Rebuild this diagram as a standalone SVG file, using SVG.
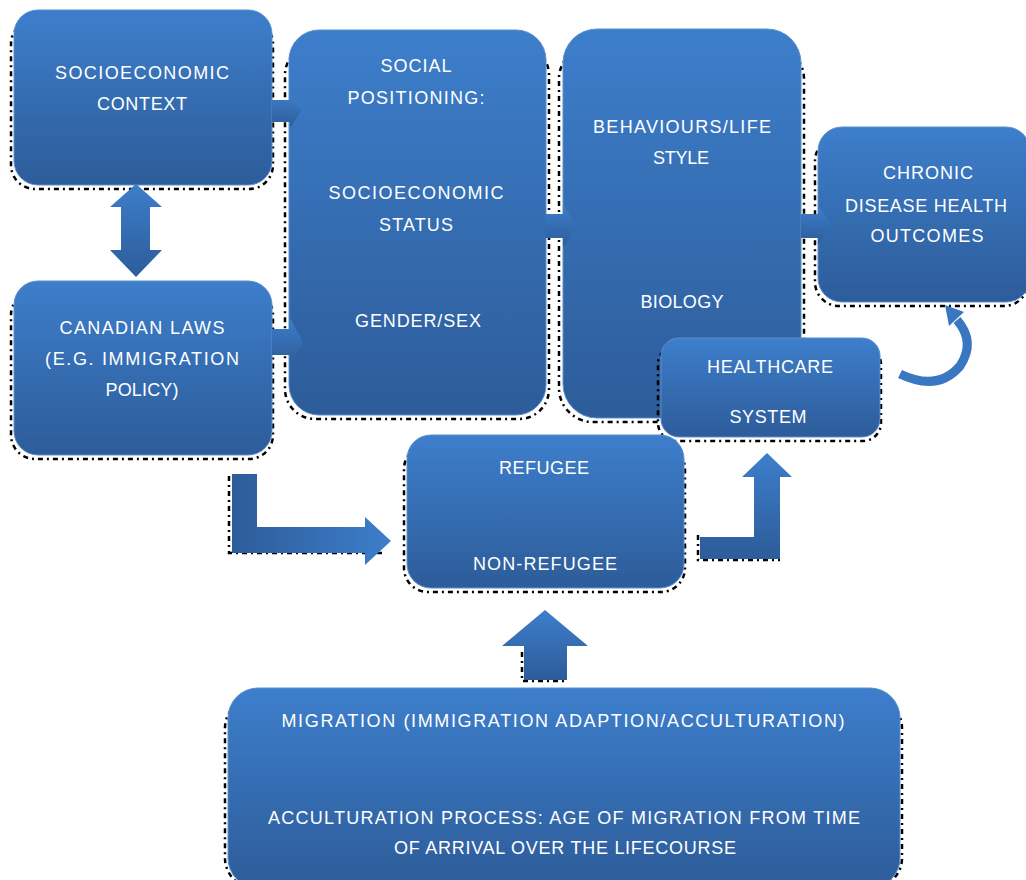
<svg xmlns="http://www.w3.org/2000/svg" width="1026" height="880" viewBox="0 0 1026 880">
<defs>
<linearGradient id="gv" x1="0" y1="0" x2="0" y2="1">
<stop offset="0" stop-color="#3d7ecb"/>
<stop offset="1" stop-color="#2d5c99"/>
</linearGradient>
<linearGradient id="gh" x1="0" y1="0" x2="1" y2="0">
<stop offset="0" stop-color="#2d5c99"/>
<stop offset="1" stop-color="#3d7ecb"/>
</linearGradient>
<style>
.box{fill:url(#gv);stroke:#5a8fd0;stroke-width:1}
.sh{fill:none;stroke:#000;stroke-width:2.5;stroke-dasharray:5 4 2 4}
.arr{fill:url(#gv)}
.arrh{fill:url(#gh)}
.t{font-family:"Liberation Sans",Arial,sans-serif;font-size:18px;fill:#fff;text-anchor:middle}
</style>
</defs>

<g id="n1">
<rect class="sh" x="11" y="20" width="262" height="169" rx="24"/>
<rect class="box" x="14" y="10" width="258" height="175" rx="24"/>
<text class="t" x="142" y="79" textLength="174" lengthAdjust="spacing">SOCIOECONOMIC</text>
<text class="t" x="142" y="110" textLength="90" lengthAdjust="spacing">CONTEXT</text>
</g>

<g id="n2">
<rect class="sh" x="11" y="291" width="262" height="168" rx="24"/>
<rect class="box" x="14" y="281" width="258" height="174" rx="24"/>
<text class="t" x="142" y="334" textLength="165" lengthAdjust="spacing">CANADIAN LAWS</text>
<text class="t" x="142" y="365" textLength="194" lengthAdjust="spacing">(E.G. IMMIGRATION</text>
<text class="t" x="142" y="396" textLength="73" lengthAdjust="spacing">POLICY)</text>
</g>

<g id="n3">
<rect class="sh" x="285" y="45" width="264" height="374" rx="30"/>
<rect class="box" x="289" y="30" width="257" height="385" rx="30"/>
<text class="t" x="416" y="72" textLength="71" lengthAdjust="spacing">SOCIAL</text>
<text class="t" x="416" y="104" textLength="137" lengthAdjust="spacing">POSITIONING:</text>
<text class="t" x="416" y="199" textLength="175" lengthAdjust="spacing">SOCIOECONOMIC</text>
<text class="t" x="416" y="231" textLength="74" lengthAdjust="spacing">STATUS</text>
<text class="t" x="418" y="327" textLength="126" lengthAdjust="spacing">GENDER/SEX</text>
</g>

<g id="n4">
<rect class="sh" x="559" y="45" width="245" height="377" rx="34"/>
<rect class="box" x="563" y="29" width="238" height="389" rx="34"/>
<text class="t" x="682" y="133" textLength="178" lengthAdjust="spacing">BEHAVIOURS/LIFE</text>
<text class="t" x="681" y="164" textLength="56" lengthAdjust="spacing">STYLE</text>
<text class="t" x="682" y="308" textLength="83" lengthAdjust="spacing">BIOLOGY</text>
</g>

<g id="n5">
<rect class="sh" x="815" y="137" width="213" height="169" rx="24"/>
<rect class="box" x="818" y="127" width="212" height="175" rx="24"/>
<text class="t" x="928" y="179" textLength="90" lengthAdjust="spacing">CHRONIC</text>
<text class="t" x="926" y="212" textLength="162" lengthAdjust="spacing">DISEASE HEALTH</text>
<text class="t" x="927" y="242" textLength="113" lengthAdjust="spacing">OUTCOMES</text>
</g>

<g id="n6">
<rect class="sh" x="658" y="346" width="223" height="95" rx="18"/>
<rect class="box" x="661" y="338" width="219" height="99" rx="18"/>
<text class="t" x="770" y="373" textLength="126" lengthAdjust="spacing">HEALTHCARE</text>
<text class="t" x="768" y="423" textLength="77" lengthAdjust="spacing">SYSTEM</text>
</g>

<g id="n7">
<rect class="sh" x="404" y="445" width="281" height="147" rx="24"/>
<rect class="box" x="407" y="435" width="277" height="153" rx="24"/>
<text class="t" x="544" y="474" textLength="90" lengthAdjust="spacing">REFUGEE</text>
<text class="t" x="545" y="570" textLength="144" lengthAdjust="spacing">NON-REFUGEE</text>
</g>

<g id="n8">
<rect class="sh" x="225" y="698" width="677" height="190" rx="30"/>
<rect class="box" x="228" y="688" width="672" height="200" rx="30"/>
<text class="t" x="563" y="727" textLength="563" lengthAdjust="spacing">MIGRATION (IMMIGRATION ADAPTION/ACCULTURATION)</text>
<text class="t" x="564" y="824" textLength="592" lengthAdjust="spacing">ACCULTURATION PROCESS: AGE OF MIGRATION FROM TIME</text>
<text class="t" x="565" y="854" textLength="342" lengthAdjust="spacing">OF ARRIVAL OVER THE LIFECOURSE</text>
</g>

<g id="connectors">
<path class="arr" d="M136 184 L162 207 L150 207 L150 250 L162 250 L136 277 L110 250 L121 250 L121 207 L110 207 Z"/>
<path class="arr" d="M272 100 L290 100 L290 94 L301 111 L290 128 L290 122 L272 122 Z"/>
<path class="arr" d="M272 329 L290 329 L290 318 L303 342 L290 365 L290 355 L272 355 Z"/>
<path class="arr" d="M545 214 L563 214 L563 205 L577 226 L563 247 L563 238 L545 238 Z"/>
<path class="arr" d="M801 214 L818 214 L818 205 L832 225 L818 245 L818 238 L801 238 Z"/>
<path class="sh" d="M229 476 L229 553 L385 553"/>
<path class="arrh" d="M232 474 L257 474 L257 527 L365 527 L365 517 L391 541 L365 565 L365 553 L232 553 Z"/>
<path class="sh" d="M698 535 L698 560 L780 560"/>
<path class="arr" d="M700 537 L754 537 L754 477 L742 477 L767 453 L792 477 L780 477 L780 559 L700 559 Z"/>
<path class="sh" d="M522 652 L522 681 L567 681"/>
<path class="arr" d="M545 610 L588 646 L567 646 L567 680 L524 680 L524 646 L502 646 Z"/>
<path d="M900 374 Q 938 392 960 366 Q 976 342 957 320" fill="none" stroke="#3a77c2" stroke-width="9" stroke-linecap="butt"/>
<path d="M945 305 L964 312 L949 326 Z" fill="#3a77c2"/>
</g>
</svg>
